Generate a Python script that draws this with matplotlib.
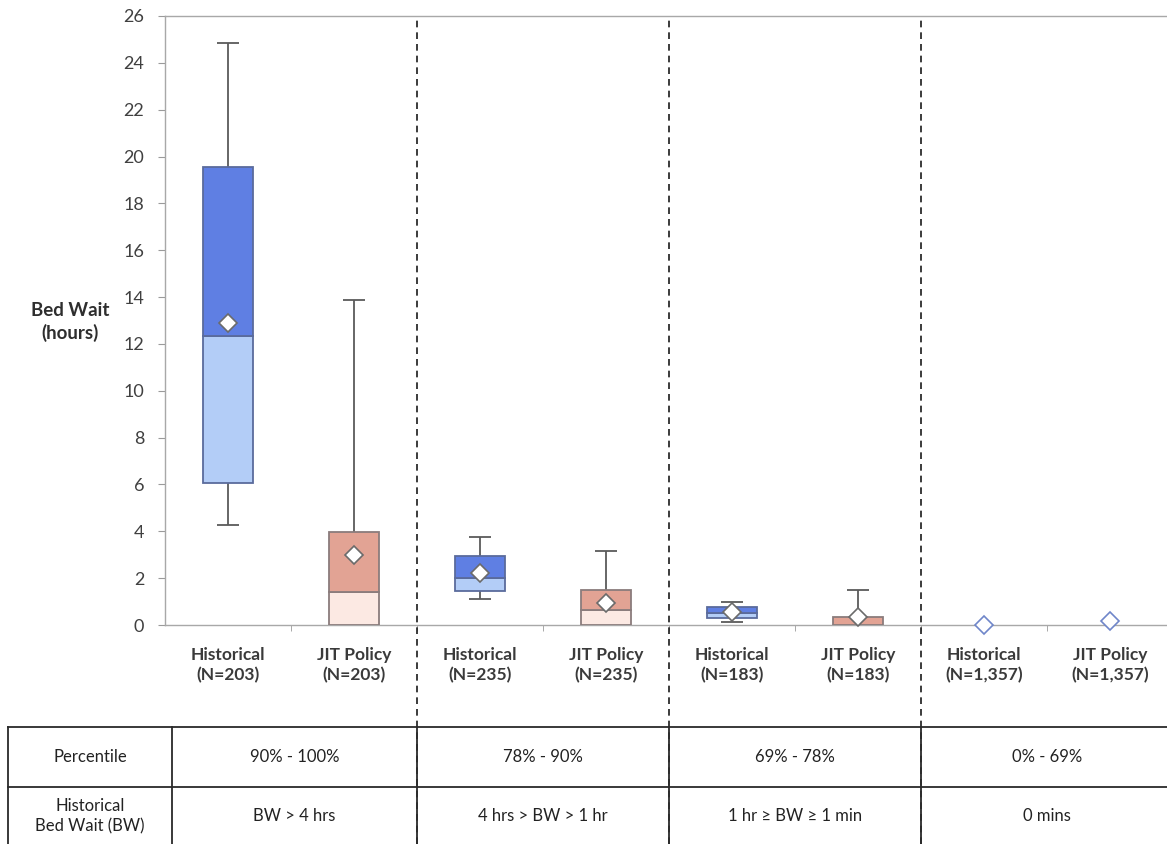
import matplotlib
matplotlib.use("Agg")
import matplotlib.pyplot as plt
from matplotlib.lines import Line2D
from matplotlib import transforms

plt.rcParams['font.family'] = ['Lato', 'DejaVu Sans']

# Box-plot summaries per group (hours)
labels = ["Historical\n(N=203)", "JIT Policy\n(N=203)",
          "Historical\n(N=235)", "JIT Policy\n(N=235)",
          "Historical\n(N=183)", "JIT Policy\n(N=183)",
          "Historical\n(N=1,357)", "JIT Policy\n(N=1,357)"]
kinds = ["hist", "jit"] * 4
whisker_lo = [4.27, 0.0, 1.10, 0.0, 0.11, 0.0, 0.0, 0.0]
q1 = [6.05, 0.0, 1.45, 0.0, 0.32, 0.0, 0.0, 0.0]
median = [12.34, 1.41, 2.02, 0.62, 0.53, 0.0, 0.0, 0.0]
q3 = [19.57, 3.96, 2.96, 1.48, 0.78, 0.36, 0.0, 0.0]
whisker_hi = [24.86, 13.88, 3.77, 3.16, 0.97, 1.49, 0.0, 0.0]
means = [12.91, 2.99, 2.23, 0.95, 0.55, 0.34, 0.0, 0.17]

percentiles = ["90% - 100%", "78% - 90%", "69% - 78%", "0% - 69%"]
bw_ranges = ["BW > 4 hrs", "4 hrs > BW > 1 hr", "1 hr \u2265 BW \u2265 1 min", "0 mins"]

colors = {
    "hist": dict(upper="#5f7fe3", lower="#b3cdf7", edge="#5a6b9c"),
    "jit": dict(upper="#e2a394", lower="#fce9e3", edge="#8a7c7c"),
}

W, H = 1167, 844
fig = plt.figure(figsize=(W / 100, H / 100), dpi=100)
ax_left, ax_top, ax_bottom = 165, 16, 625
ax = fig.add_axes([ax_left / W, 1 - ax_bottom / H, 1008 / W, (ax_bottom - ax_top) / H])

x = list(range(len(labels)))
bw = 0.40
cap = 0.09
for i in x:
    c = colors[kinds[i]]
    lo_h = median[i] - q1[i]
    up_h = q3[i] - median[i]
    # whiskers
    if whisker_hi[i] > q3[i]:
        ax.vlines(i, q3[i], whisker_hi[i], color="#5a5a5a", lw=1.3, zorder=2)
        ax.hlines(whisker_hi[i], i - cap, i + cap, color="#5a5a5a", lw=1.3, zorder=2)
    if whisker_lo[i] < q1[i]:
        ax.vlines(i, whisker_lo[i], q1[i], color="#5a5a5a", lw=1.3, zorder=2)
        ax.hlines(whisker_lo[i], i - cap, i + cap, color="#5a5a5a", lw=1.3, zorder=2)
    if lo_h > 0:
        ax.bar(i, lo_h, bottom=q1[i], width=bw, color=c["lower"],
               edgecolor=c["edge"], lw=1.3, zorder=3)
    if up_h > 0:
        ax.bar(i, up_h, bottom=median[i], width=bw, color=c["upper"],
               edgecolor=c["edge"], lw=1.3, zorder=3)
    edge = "#6b6b6b" if i < 6 else "#6f86c9"
    ax.plot(i, means[i], marker="D", ms=9, mfc="white", mec=edge, mew=1.2,
            zorder=5, clip_on=False)

ax.set_xlim(-0.5, 7.5)
ax.set_ylim(0, 26)
ax.set_yticks(range(0, 27, 2))
ax.set_xticks(x)
ax.set_xticklabels(labels, fontsize=12.5, fontweight="bold", color="#3a3a3a",
                   linespacing=1.25)
ax.set_xticks([k + 0.5 for k in range(7)], minor=True)
ax.tick_params(axis="x", which="major", length=0, pad=16)
ax.tick_params(axis="x", which="minor", length=4, color="#9a9a9a", direction="out")
ax.tick_params(axis="y", length=5, color="#9a9a9a", labelsize=13,
               labelcolor="#404040", pad=10)

for s in ["left", "top", "bottom"]:
    ax.spines[s].set_color("#a8a8a8")
    ax.spines[s].set_linewidth(1.0)
ax.spines["right"].set_visible(False)

fig.text(70 / W, 1 - 322 / H, "Bed Wait\n(hours)",
         fontsize=13.5, fontweight="bold", color="#2e2e2e",
         ha="center", va="center", linespacing=1.35)

# Dashed group dividers running down through the table
blend = transforms.blended_transform_factory(ax.transData, fig.transFigure)
for d in [1.5, 3.5, 5.5]:
    fig.add_artist(Line2D([d, d], [0, 1 - ax_top / H - 0.002], transform=blend,
                          color="#1a1a1a", lw=1.2, linestyle=(0, (4, 3))))

# Table below the chart
def fy(py):
    return 1 - py / H

t_top, t_mid = 727, 787
tc = "#2a2a2a"
fig.add_artist(Line2D([8 / W, 1.0], [fy(t_top)] * 2, transform=fig.transFigure,
                      color=tc, lw=1.3))
fig.add_artist(Line2D([8 / W, 1.0], [fy(t_mid)] * 2, transform=fig.transFigure,
                      color=tc, lw=1.3))
for px in [8, 172]:
    fig.add_artist(Line2D([px / W] * 2, [0, fy(t_top)], transform=fig.transFigure,
                          color=tc, lw=1.3))
for d in [1.5, 3.5, 5.5]:
    fig.add_artist(Line2D([d, d], [0, fy(t_top)], transform=blend, color=tc, lw=1.3))

fig.text(90 / W, fy(757), "Percentile", ha="center", va="center",
         fontsize=12, color="#222222")
fig.text(90 / W, fy(816), "Historical\nBed Wait (BW)", ha="center", va="center",
         fontsize=12, color="#222222", linespacing=1.3)

centers = [(-0.445 + 1.5) / 2, 2.5, 4.5, 6.5]
for cx, ptxt, btxt in zip(centers, percentiles, bw_ranges):
    fig.text(cx, fy(757), ptxt, transform=blend, ha="center", va="center",
             fontsize=12, color="#222222")
    fig.text(cx, fy(816), btxt, transform=blend, ha="center", va="center",
             fontsize=12, color="#222222")

fig.savefig("out.png", dpi=100, facecolor="white")
